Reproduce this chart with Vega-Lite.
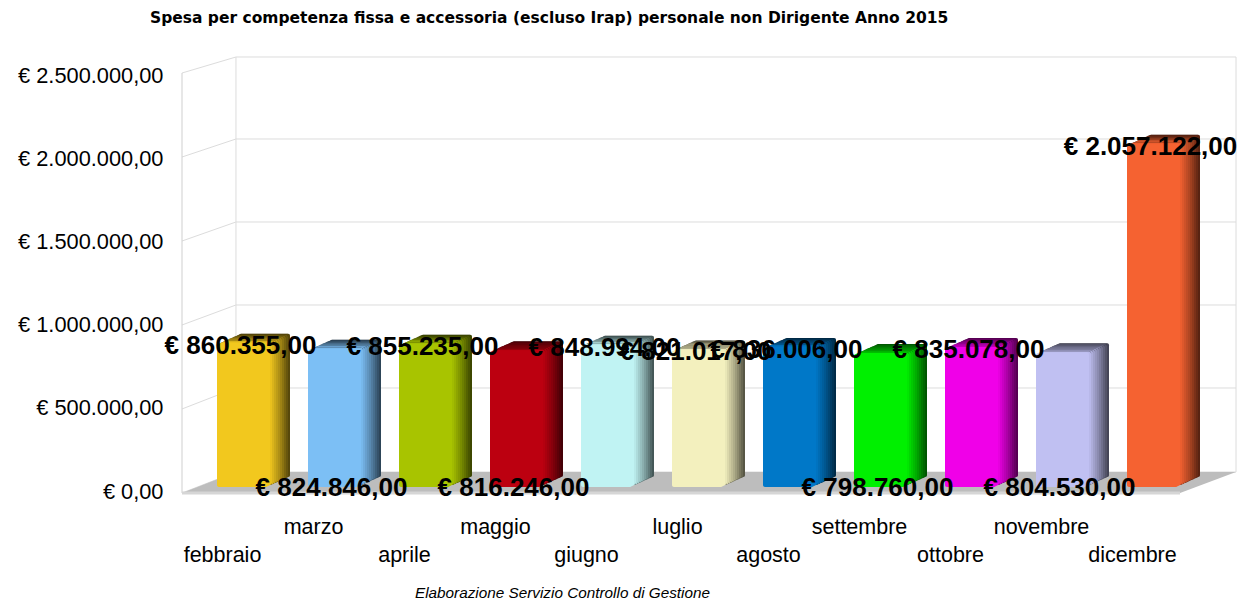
{
"$schema":"https://vega.github.io/schema/vega-lite/v6.json",
"width":1054,"height":416,
"autosize":{"type":"none"},
"padding":{"left":182,"top":75,"right":3,"bottom":112},
"background":"white",
"title":{"text":"Spesa per competenza fissa e accessoria (escluso Irap) personale non Dirigente Anno 2015","anchor":"start","frame":"group","dx":-32,"offset":35,"dy":17,"fontSize":15.5,"fontWeight":"bold","font":"DejaVu Sans","color":"#000000","baseline":"alphabetic"},
"config":{"view":{"stroke":null}},
"datasets":{
"months":[
{"month":"febbraio","amount":860355,"label":"€ 860.355,00","row":"high"},
{"month":"marzo","amount":824846,"label":"€ 824.846,00","row":"low"},
{"month":"aprile","amount":855235,"label":"€ 855.235,00","row":"high"},
{"month":"maggio","amount":816246,"label":"€ 816.246,00","row":"low"},
{"month":"giugno","amount":848994,"label":"€ 848.994,00","row":"high"},
{"month":"luglio","amount":821017,"label":"€ 821.017,00","row":"high"},
{"month":"agosto","amount":836006,"label":"€ 836.006,00","row":"high"},
{"month":"settembre","amount":798760,"label":"€ 798.760,00","row":"low"},
{"month":"ottobre","amount":835078,"label":"€ 835.078,00","row":"high"},
{"month":"novembre","amount":804530,"label":"€ 804.530,00","row":"low"},
{"month":"dicembre","amount":2057122,"label":"€ 2.057.122,00","row":"high"}
],
"grid":[
{"tick":0,"front":-12000,"back":114200},
{"tick":500000,"front":492800,"back":619000},
{"tick":1000000,"front":997600,"back":1117800},
{"tick":1500000,"front":1502400,"back":1616600},
{"tick":2000000,"front":2007200,"back":2115400},
{"tick":2500000,"front":2512000,"back":2608200}
],
"floor":[
{"depth":-12000,"from":0,"to":0.9469},
{"depth":114200,"from":0.0512,"to":1}
]
},
"resolve":{"scale":{"x":"independent"}},
"layer":[
{
"layer":[
{"data":{"name":"grid"},"mark":{"type":"rule","color":"#dcdcdc","strokeWidth":1},
"encoding":{
"x":{"datum":0.0512,"type":"quantitative","scale":{"domain":[0,1],"nice":false},"axis":null},
"x2":{"datum":1},
"y":{"field":"back","type":"quantitative","scale":{"domain":[0,2500000],"nice":false},
"axis":{"title":null,"grid":false,"ticks":false,"domain":false,"values":[0,500000,1000000,1500000,2000000,2500000],
"labelFont":"Liberation Sans","labelFontSize":21.8,"labelColor":"#000000","labelPadding":19,"labelOverlap":false,"labelBound":false,"labelFlush":false,
"labelExpr":"'€ ' + replace(replace(replace(format(datum.value,',.2f'),/,/g,'#'),'.',','),/#/g,'.')",
"encoding":{"labels":{"update":{"dy":{"signal":"3*datum.value/2500000"}}}}}}
}},
{"data":{"name":"grid"},"mark":{"type":"rule","color":"#dcdcdc","strokeWidth":1},
"encoding":{
"x":{"datum":0,"type":"quantitative"},"x2":{"datum":0.0512},
"y":{"field":"front","type":"quantitative"},"y2":{"field":"back"}
}},
{"data":{"name":"grid"},"transform":[{"filter":"datum.tick==0"}],"mark":{"type":"rule","color":"#dcdcdc","strokeWidth":1},
"encoding":{"x":{"datum":0.0512,"type":"quantitative"},"y":{"field":"back","type":"quantitative"},"y2":{"datum":2608200}}},
{"data":{"name":"grid"},"transform":[{"filter":"datum.tick==0"}],"mark":{"type":"rule","color":"#dcdcdc","strokeWidth":1},
"encoding":{"x":{"datum":1,"type":"quantitative"},"y":{"field":"back","type":"quantitative"},"y2":{"datum":2608200}}},
{"data":{"name":"grid"},"transform":[{"filter":"datum.tick==0"}],"mark":{"type":"rule","color":"#cfcfcf","strokeWidth":1},
"encoding":{"x":{"datum":0,"type":"quantitative"},"y":{"field":"front","type":"quantitative"},"y2":{"datum":2512000}}},
{"data":{"name":"floor"},"mark":{"type":"area","orient":"horizontal","color":"#bdbdbd"},
"encoding":{"x":{"field":"from","type":"quantitative"},"x2":{"field":"to"},"y":{"field":"depth","type":"quantitative"}}},
{"data":{"name":"floor"},"transform":[{"filter":"datum.depth<0"}],"mark":{"type":"rule","color":"#d6d6d6","strokeWidth":3},
"encoding":{"x":{"field":"from","type":"quantitative"},"x2":{"field":"to"},"y":{"field":"depth","type":"quantitative"}}}
]},
{
"data":{"name":"months"},
"encoding":{
"x":{"field":"month","type":"nominal","sort":null,
"scale":{"domain":["febbraio","marzo","aprile","maggio","giugno","luglio","agosto","settembre","ottobre","novembre","dicembre"],"paddingInner":0,"paddingOuter":0.28,"align":0.283,"round":true},
"axis":{"orient":"bottom","title":"Elaborazione Servizio Controllo di Gestione","titleFont":"Liberation Sans","titleFontStyle":"italic","titleFontWeight":"normal","titleFontSize":15.3,"titleColor":"#000000","titleX":380,"titleY":101,"titleAlign":"center","titleBaseline":"middle",
"domain":false,"ticks":false,"grid":false,"labelAngle":0,"labelFont":"Liberation Sans","labelFontSize":21.5,"labelColor":"#000000","labelOffset":-20,"labelBaseline":"top","labelOverlap":false,"labelBound":false,"labelFlush":false,
"labelPadding":{"condition":{"test":"indexof(['febbraio','aprile','giugno','agosto','ottobre','dicembre'],datum.value)>=0","value":53},"value":25}}},
"y":{"field":"amount","type":"quantitative"},
"y2":{"datum":0},
"color":{"field":"month","type":"nominal","legend":null,"scale":{"domain":["febbraio","marzo","aprile","maggio","giugno","luglio","agosto","settembre","ottobre","novembre","dicembre"],"range":["#F2C81E","#7CBFF5","#A8C400","#BC0010","#C0F3F3","#F3F0BE","#0078C8","#00F000","#F000E8","#C0C0F2","#F56231"]}}
},
"layer":[
{"mark":{"type":"bar","width":51,"cornerRadius":2,"xOffset":22,"yOffset":-14,"y2Offset":-14},"encoding":{"color":{"value":"#000000"}}},
{"mark":{"type":"bar","width":51,"cornerRadius":2,"xOffset":22,"yOffset":-14,"y2Offset":-14,"opacity":0.36}},
{"mark":{"type":"bar","width":51,"cornerRadius":2,"xOffset":20,"yOffset":-13.1,"y2Offset":-13.1},"encoding":{"color":{"value":"#000000"}}},
{"mark":{"type":"bar","width":51,"cornerRadius":2,"xOffset":20,"yOffset":-13.1,"y2Offset":-13.1,"opacity":0.43}},
{"mark":{"type":"bar","width":51,"cornerRadius":2,"xOffset":18,"yOffset":-12.2,"y2Offset":-12.2},"encoding":{"color":{"value":"#000000"}}},
{"mark":{"type":"bar","width":51,"cornerRadius":2,"xOffset":18,"yOffset":-12.2,"y2Offset":-12.2,"opacity":0.5}},
{"mark":{"type":"bar","width":51,"cornerRadius":2,"xOffset":16,"yOffset":-11.3,"y2Offset":-11.3},"encoding":{"color":{"value":"#000000"}}},
{"mark":{"type":"bar","width":51,"cornerRadius":2,"xOffset":16,"yOffset":-11.3,"y2Offset":-11.3,"opacity":0.58}},
{"mark":{"type":"bar","width":51,"cornerRadius":2,"xOffset":14,"yOffset":-10.4,"y2Offset":-10.4},"encoding":{"color":{"value":"#000000"}}},
{"mark":{"type":"bar","width":51,"cornerRadius":2,"xOffset":14,"yOffset":-10.4,"y2Offset":-10.4,"opacity":0.65}},
{"mark":{"type":"bar","width":51,"cornerRadius":2,"xOffset":12,"yOffset":-9.5,"y2Offset":-9.5},"encoding":{"color":{"value":"#000000"}}},
{"mark":{"type":"bar","width":51,"cornerRadius":2,"xOffset":12,"yOffset":-9.5,"y2Offset":-9.5,"opacity":0.72}},
{"mark":{"type":"bar","width":51,"cornerRadius":2,"xOffset":10,"yOffset":-8.6,"y2Offset":-8.6},"encoding":{"color":{"value":"#000000"}}},
{"mark":{"type":"bar","width":51,"cornerRadius":2,"xOffset":10,"yOffset":-8.6,"y2Offset":-8.6,"opacity":0.78}},
{"mark":{"type":"bar","width":51,"cornerRadius":2,"xOffset":8,"yOffset":-7.7,"y2Offset":-7.7},"encoding":{"color":{"value":"#000000"}}},
{"mark":{"type":"bar","width":51,"cornerRadius":2,"xOffset":8,"yOffset":-7.7,"y2Offset":-7.7,"opacity":0.84}},
{"mark":{"type":"bar","width":51,"cornerRadius":2,"xOffset":6,"yOffset":-6.8,"y2Offset":-6.8},"encoding":{"color":{"value":"#000000"}}},
{"mark":{"type":"bar","width":51,"cornerRadius":2,"xOffset":6,"yOffset":-6.8,"y2Offset":-6.8,"opacity":0.9}},
{"mark":{"type":"bar","width":51,"cornerRadius":2,"xOffset":4,"yOffset":-5.9,"y2Offset":-5.9},"encoding":{"color":{"value":"#000000"}}},
{"mark":{"type":"bar","width":51,"cornerRadius":2,"xOffset":4,"yOffset":-5.9,"y2Offset":-5.9,"opacity":0.96}},
{"mark":{"type":"bar","width":51,"cornerRadius":2,"xOffset":2,"yOffset":-5,"y2Offset":-5}},
{"mark":{"type":"bar","width":51,"cornerRadius":2,"yOffset":-4,"y2Offset":-4}},
{"transform":[{"filter":"datum.row=='high'"}],
"mark":{"type":"text","font":"Liberation Sans","fontWeight":"bold","fontSize":26,"baseline":"middle","align":"center","dx":-2,"dy":-2,"color":"#000000"},
"encoding":{"text":{"field":"label","type":"nominal"},"color":{"value":"#000000"},"y2":null}},
{"transform":[{"filter":"datum.row=='low'"}],
"mark":{"type":"text","font":"Liberation Sans","fontWeight":"bold","fontSize":26,"baseline":"middle","align":"center","dx":-2,"color":"#000000"},
"encoding":{"text":{"field":"label","type":"nominal"},"color":{"value":"#000000"},"y":{"datum":18000,"type":"quantitative"},"y2":null}}
]
}
]
}
